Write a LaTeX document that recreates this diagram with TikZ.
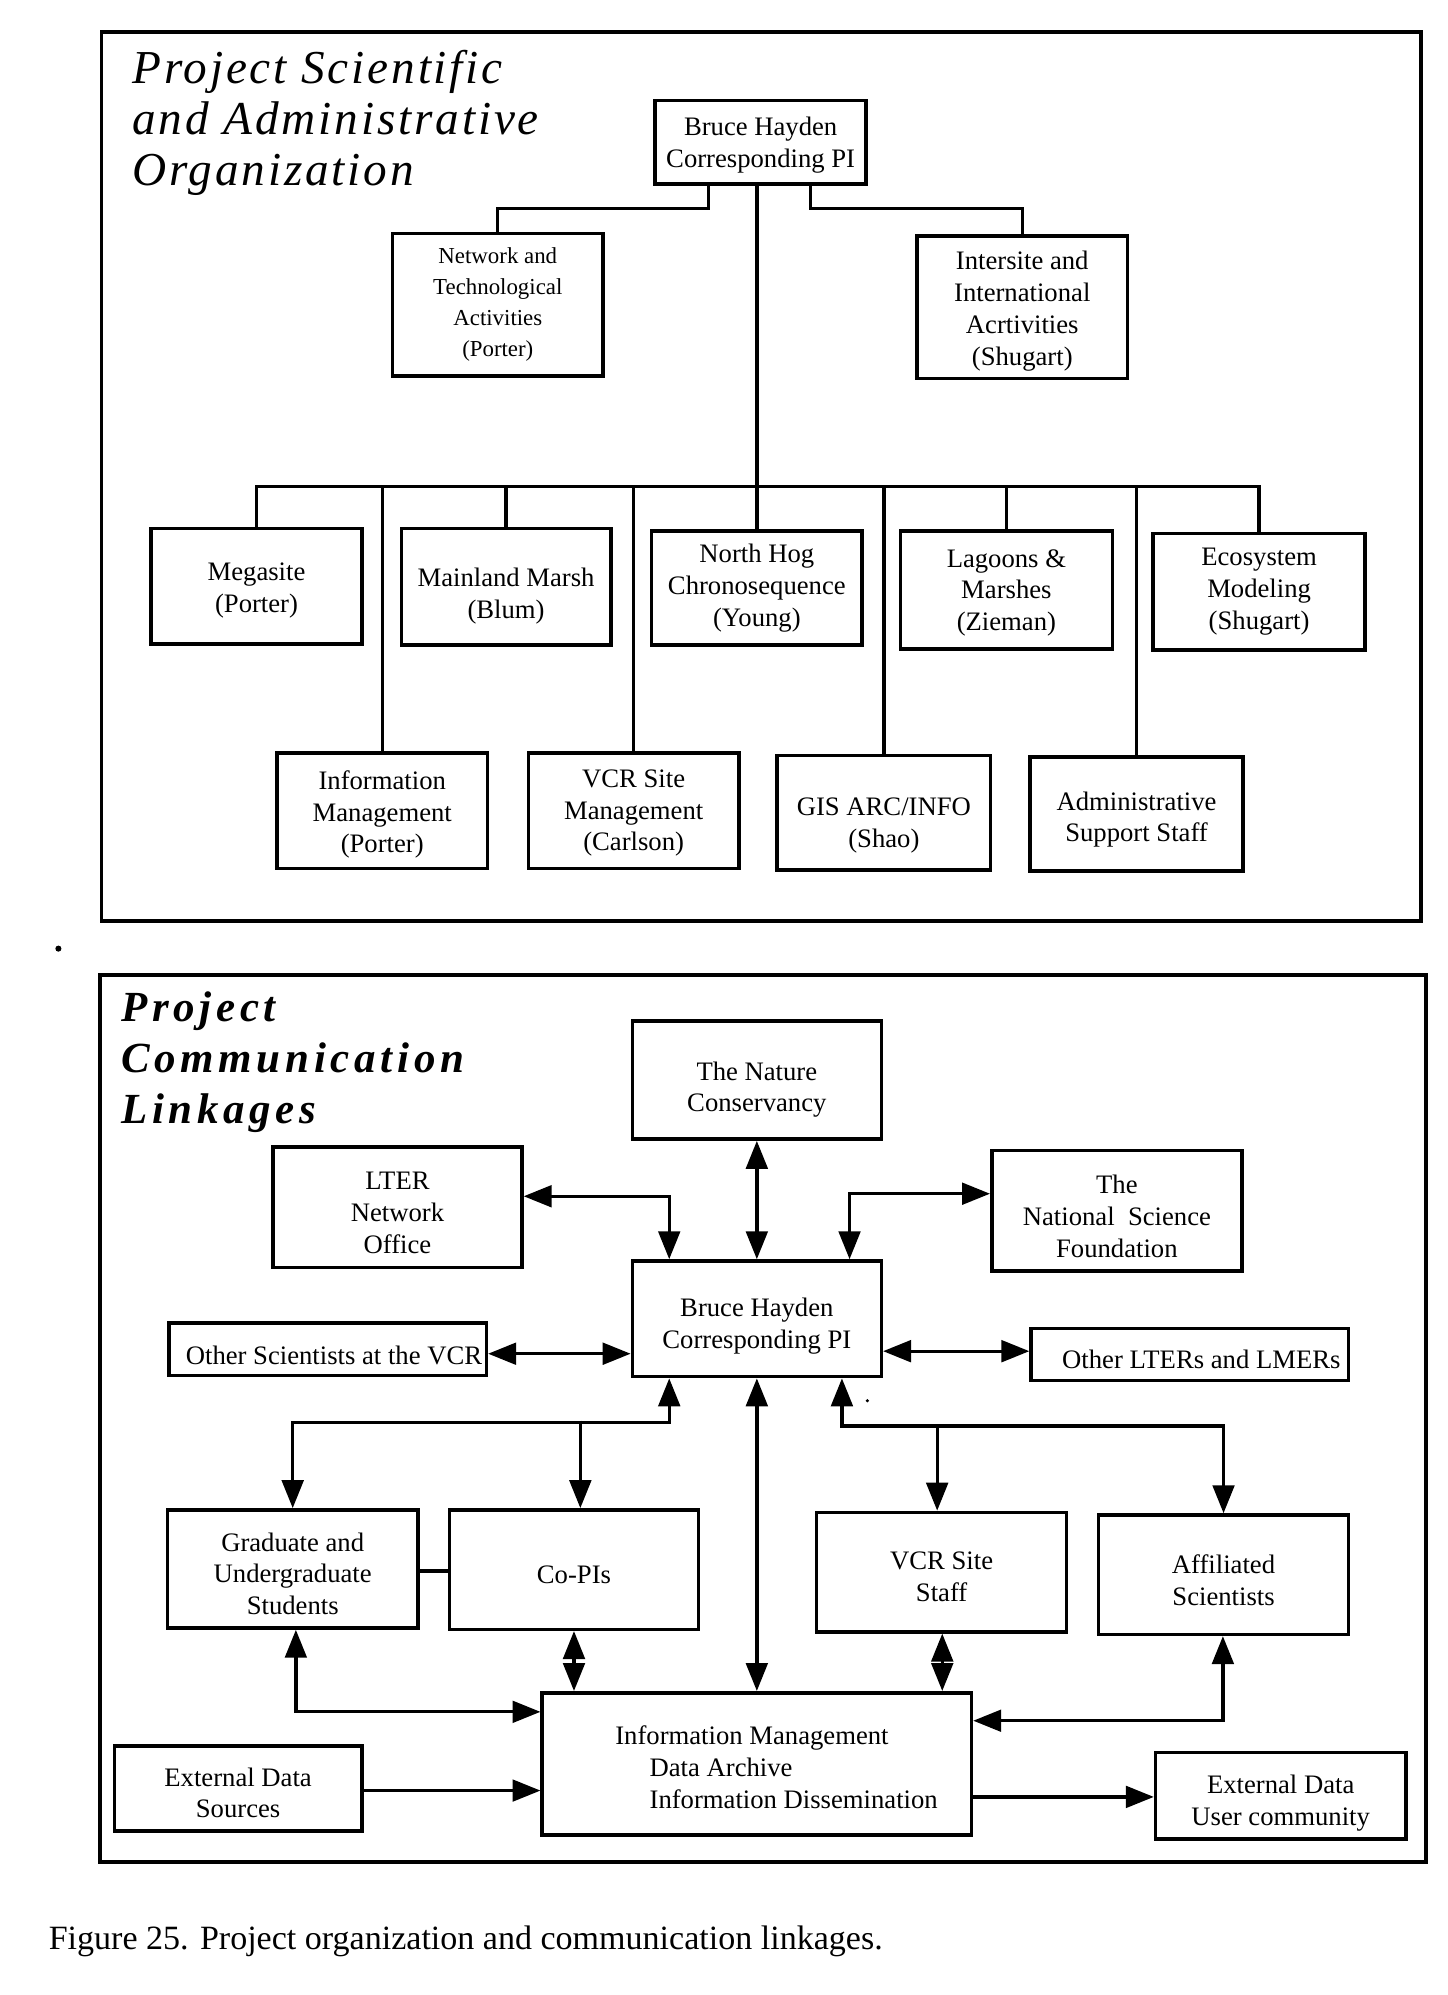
\documentclass[tikz,border=0pt]{standalone}
\usepackage{fontspec}
\setmainfont{Liberation Serif}
\newfontfamily\toptitle[LetterSpace=6]{Liberation Serif}
\newfontfamily\bottitle[LetterSpace=11]{Liberation Serif}
\usetikzlibrary{arrows.meta}
\begin{document}
\begin{tikzpicture}[x=0.5pt,y=-0.5pt,
  box/.style={draw,line width=1.4pt,rectangle,inner sep=0pt,align=center,font=\fontsize{10.5}{12.5}\selectfont},
  bl/.style={text depth=0pt,text height=#1pt},
  conn/.style={line width=1.3pt},
  arr/.style={line width=1.3pt,-{Triangle[length=11pt,width=8.5pt]}},
  barr/.style={line width=1.3pt,{Triangle[length=11pt,width=8.5pt]}-{Triangle[length=11pt,width=8.5pt]}},
  frame/.style={draw,line width=1.5pt},
  ttl/.style={anchor=base west,align=left,inner sep=0pt}]
\useasboundingbox (0,0) rectangle (1140,1571);

% ---------------- frames ----------------
\draw[frame] (80,25) rectangle (1119,725);
\draw[frame] (79,768) rectangle (1123,1466);

% ---------------- titles (anchor at baseline of last line) ----------------
\node[ttl,font=\toptitle\itshape\fontsize{18.6}{20}\selectfont] (t1) at (104,146)
  {Project Scientific\\and Administrative\\Organization};
\node[ttl,font=\bottitle\bfseries\itshape\fontsize{16.9}{20.25}\selectfont] (t2) at (95,885)
  {Project\\Communication\\Linkages};

% ---------------- top chart ----------------
\node[box,minimum width=83pt,minimum height=33pt,bl=20] (bh1) at (599,112) {Bruce Hayden\\Corresponding PI};
\node[box,minimum width=83pt,minimum height=56pt,font=\fontsize{9}{12.25}\selectfont] (net) at (392,240)
  {Network and\\Technological\\Activities\\(Porter)};
\node[box,minimum width=83pt,minimum height=56pt,bl=45.5] (inter) at (805,242)
  {Intersite and\\International\\Acrtivities\\(Shugart)};

\node[box,minimum width=83pt,minimum height=45.5pt,bl=21] (mega) at (202,461.5) {Megasite\\(Porter)};
\node[box,minimum width=82.5pt,minimum height=46pt,bl=25] (marsh) at (398.5,462) {Mainland Marsh\\(Blum)};
\node[box,minimum width=83pt,minimum height=45pt] (hog) at (596,463) {North Hog\\Chronosequence\\(Young)};
\node[box,minimum width=83.5pt,minimum height=46.5pt,bl=32] (lag) at (792.5,464.5) {Lagoons \&\\Marshes\\(Zieman)};
\node[box,minimum width=83.5pt,minimum height=46pt] (eco) at (991.5,466) {Ecosystem\\Modeling\\(Shugart)};

\node[box,minimum width=83pt,minimum height=45.5pt,bl=33] (infom) at (301,638.5) {Information\\Management\\(Porter)};
\node[box,minimum width=83pt,minimum height=45.5pt,bl=31.5] (vcrm) at (499,638.5) {VCR Site\\Management\\(Carlson)};
\node[box,minimum width=84pt,minimum height=45pt,bl=27] (gis) at (696,640) {GIS ARC/INFO\\(Shao)};
\node[box,minimum width=84pt,minimum height=45pt,bl=22] (adm) at (895,641) {Administrative\\Support Staff};

\coordinate (bus) at (0,383);
\draw[conn] (bh1.south -| 558,0) -- ++(0,18) -| (net.north);
\draw[conn] (bh1.south -| 638,0) -- ++(0,18) -| (inter.north);
\draw[conn] (bh1.south -| hog.north) -- (hog.north);
\draw[conn] (mega.north) -- (mega.north |- bus) -- (eco.north |- bus) -- (eco.north);
\draw[conn] (marsh.north |- bus) -- (marsh.north);
\draw[conn] (lag.north |- bus) -- (lag.north);
\draw[conn] (infom.north |- bus) -- (infom.north);
\draw[conn] (vcrm.north |- bus) -- (vcrm.north);
\draw[conn] (gis.north |- bus) -- (gis.north);
\draw[conn] (adm.north |- bus) -- (adm.north);

\fill (46,747) circle (1.2pt);

% ---------------- bottom chart ----------------
\node[box,minimum width=98pt,minimum height=46.5pt,bl=25] (tnc) at (596,850.5) {The Nature\\Conservancy};
\node[box,minimum width=98pt,minimum height=47.5pt,bl=36.5] (lter) at (313,950.5) {LTER\\Network\\Office};
\node[box,minimum width=98.5pt,minimum height=47.5pt,bl=36.5] (nsf) at (879.5,953.5) {The\\National\ \ Science\\Foundation};
\node[box,minimum width=98pt,minimum height=45.5pt,bl=23.5] (bh2) at (596,1038.5) {Bruce Hayden\\Corresponding PI};
\node[box,minimum width=125pt,minimum height=20.5pt,bl=12] (osv) at (258,1062.5) {\hspace*{5pt}Other Scientists at the VCR};
\node[box,minimum width=125pt,minimum height=20.5pt,bl=11] (olt) at (937,1066.5) {\hspace*{9pt}Other LTERs and LMERs};
\node[box,minimum width=98.5pt,minimum height=46.5pt,bl=36] (grad) at (230.5,1235.5) {Graduate and\\Undergraduate\\Students};
\node[box,minimum width=98pt,minimum height=47pt,bl=11] (copi) at (452,1236) {Co-PIs};
\node[box,minimum width=98.5pt,minimum height=47pt,bl=23] (vcrs) at (741.5,1238) {VCR Site\\Staff};
\node[box,minimum width=98.5pt,minimum height=47pt,bl=24] (aff) at (963.5,1240) {Affiliated\\Scientists};
\node[box,minimum width=169pt,minimum height=56pt,align=left,bl=35] (im) at (596,1389)
  {\hspace*{15.5pt}Information Management\\\hspace*{29pt}Data Archive\\\hspace*{29pt}Information Dissemination};
\node[box,minimum width=97.5pt,minimum height=33.5pt,bl=23] (eds) at (187.5,1408.5) {External Data\\Sources};
\node[box,minimum width=98.5pt,minimum height=34pt,bl=23.3] (edu) at (1008.5,1414) {External Data\\User community};

\draw[barr] (tnc.south) -- (bh2.north);
\draw[barr] (lter.east |- 0,942) -| (bh2.north -| 527,0);
\draw[barr] (bh2.north -| 669,0) |- (nsf.west |- 0,940);
\draw[barr] (osv.east |- 0,1066) -- (bh2.west |- 0,1066);
\draw[barr] (bh2.east |- 0,1064) -- (olt.west |- 0,1064);

\draw[barr] (bh2.south -| 527,0) |- (grad.north |- 0,1120) -- (grad.north);
\draw[arr] (copi.north -| 457,0) ++(0,-69) -- (copi.north -| 457,0);
\draw[barr] (bh2.south -| 663,0) |- (aff.north |- 0,1123) -- (aff.north);
\draw[arr] (vcrs.north -| 738,0) ++(0,-68) -- (vcrs.north -| 738,0);

\draw[barr] (bh2.south) -- (im.north);
\draw[conn] (grad.east |- 0,1237) -- (copi.west |- 0,1237);
\draw[barr] (grad.south -| 233,0) |- (im.west |- 0,1348);
\draw[barr] (copi.south -| 452,0) -- (im.north -| 452,0);
\draw[barr] (vcrs.south -| 742,0) -- (im.north -| 742,0);
\draw[barr] (aff.south -| 963,0) |- (im.east |- 0,1355);
\draw[arr] (eds.east |- 0,1410) -- (im.west |- 0,1410);
\draw[arr] (im.east |- 0,1415) -- (edu.west |- 0,1415);

\fill (683,1103) circle (0.7pt);

% ---------------- caption ----------------
\node[anchor=base west,inner sep=0pt,font=\fontsize{13.4}{15}\selectfont] (cap) at (38,1535)
  {Figure 25. Project organization and communication linkages.};
\end{tikzpicture}
\end{document}
